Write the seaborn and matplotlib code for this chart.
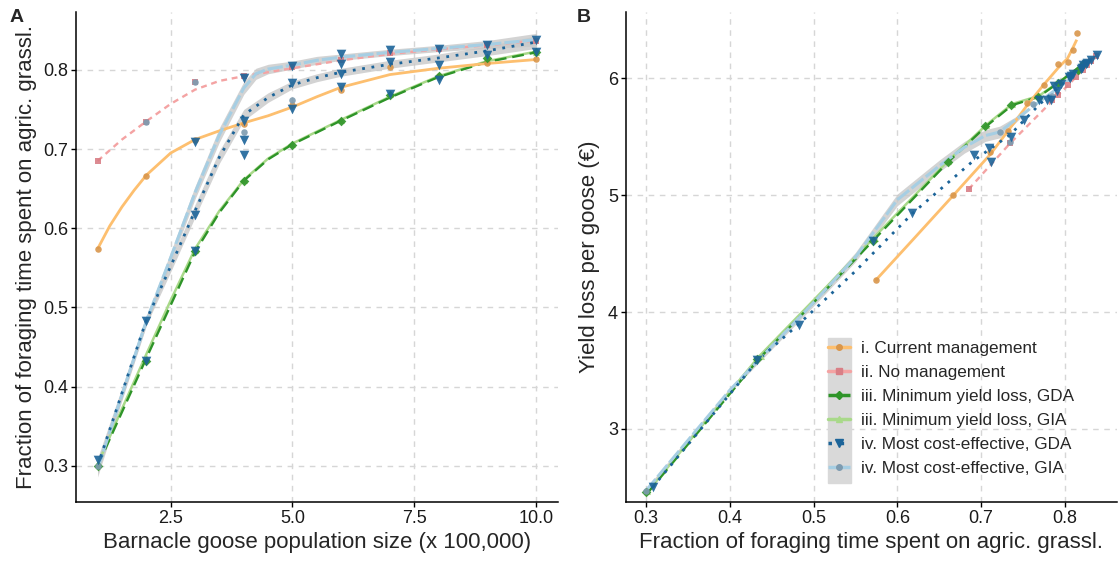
import matplotlib
matplotlib.use("Agg")
import matplotlib.pyplot as plt
from matplotlib.lines import Line2D
from matplotlib.patches import Rectangle
import numpy as np
import pandas as pd
import seaborn as sns

sns.set_theme(style="white")
plt.rcParams["font.family"] = ["Liberation Sans", "DejaVu Sans"]

# ---------------------------------------------------------------- data
labels = ["i. Current management", "ii. No management",
          "iii. Minimum yield loss, GDA", "iii. Minimum yield loss, GIA",
          "iv. Most cost-effective, GDA", "iv. Most cost-effective, GIA"]

# points: population (x 100,000), fraction on agric. grassland, yield loss per goose
cur_pop = [1, 2, 3, 4, 5, 6, 7, 8, 9, 10]
cur_frac = [0.574, 0.666, 0.711, 0.732, 0.755, 0.775, 0.803, 0.792, 0.809, 0.814]
cur_yld = [4.27, 5.00, 5.37, 5.55, 5.79, 5.94, 6.14, 6.12, 6.24, 6.39]

nom_pop = [1, 2, 3, 4, 5, 6, 7, 8, 9, 10]
nom_frac = [0.685, 0.734, 0.784, 0.792, 0.803, 0.813, 0.821, 0.826, 0.831, 0.837]
nom_yld = [5.05, 5.45, 5.81, 5.86, 5.94, 6.01, 6.07, 6.11, 6.15, 6.19]

myl_gda_pop = [1, 2, 3, 4, 5, 6, 7, 8, 9, 10]
myl_gda_frac = [0.300, 0.433, 0.571, 0.660, 0.705, 0.736, 0.768, 0.792, 0.815, 0.822]
myl_gda_yld = [2.46, 3.60, 4.61, 5.28, 5.59, 5.77, 5.84, 5.96, 6.07, 6.12]

myl_gia_pop = [1, 2, 3, 4, 5, 6, 7, 8, 9, 10]
myl_gia_frac = [0.302, 0.437, 0.573, 0.661, 0.706, 0.737, 0.769, 0.793, 0.816, 0.823]
myl_gia_yld = [2.47, 3.62, 4.63, 5.29, 5.60, 5.78, 5.85, 5.97, 6.08, 6.13]

ce_gda_pop = [1, 2, 2, 3, 3, 3, 4, 4, 4, 4, 5, 5, 5, 6, 6, 6, 6,
              7, 7, 7, 8, 8, 8, 9, 9, 10, 10]
ce_gda_frac = [0.308, 0.483, 0.433, 0.709, 0.617, 0.571, 0.790, 0.735, 0.712, 0.692,
               0.805, 0.783, 0.751, 0.820, 0.807, 0.795, 0.778, 0.825, 0.810, 0.769,
               0.8265, 0.8055, 0.787, 0.8315, 0.819, 0.838, 0.822]
ce_gda_yld = [2.50, 3.89, 3.59, 5.40, 4.85, 4.61, 5.89, 5.50, 5.28, 5.34,
              6.01, 5.81, 5.645, 6.085, 6.02, 5.95, 5.81, 6.12, 6.04, 5.81,
              6.13, 6.00, 5.93, 6.16, 6.08, 6.20, 6.11]

ce_gia_pop = [1, 2, 3, 4, 5]
ce_gia_frac = [0.300, 0.734, 0.784, 0.722, 0.762]
ce_gia_yld = [2.47, 5.455, 5.85, 5.54, 5.78]

# fitted (smoothed) curves, panel A: population -> fraction
cur_fit_pop = [1, 1.25, 1.5, 1.75, 2, 2.5, 3, 3.5, 4, 4.5, 5, 5.5, 6, 7, 8, 9, 10]
cur_fit_frac = [0.574, 0.603, 0.627, 0.648, 0.667, 0.695, 0.712, 0.723, 0.733, 0.742,
                0.753, 0.766, 0.778, 0.794, 0.802, 0.808, 0.813]
nom_fit_pop = [1, 1.5, 2, 2.5, 3, 3.5, 4, 4.5, 5, 6, 7, 8, 9, 10]
nom_fit_frac = [0.685, 0.712, 0.735, 0.757, 0.775, 0.786, 0.792, 0.797, 0.802, 0.812,
                0.820, 0.826, 0.831, 0.837]
myl_gda_fit_pop = [1, 1.5, 2, 2.5, 3, 3.5, 4, 4.5, 5, 5.5, 6, 7, 8, 9, 10]
myl_gda_fit_frac = [0.300, 0.368, 0.436, 0.503, 0.570, 0.620, 0.660, 0.687, 0.706, 0.721,
                    0.736, 0.765, 0.791, 0.810, 0.822]
myl_gia_fit_frac = [0.302, 0.372, 0.441, 0.509, 0.574, 0.622, 0.661, 0.688, 0.707, 0.722,
                    0.737, 0.766, 0.792, 0.811, 0.823]
ce_gda_fit_pop = [1, 1.5, 2, 2.5, 3, 3.5, 4, 4.5, 5, 5.5, 6, 7, 8, 9, 10]
ce_gda_fit_frac = [0.300, 0.392, 0.484, 0.552, 0.622, 0.690, 0.743, 0.765, 0.781, 0.790,
                   0.797, 0.807, 0.815, 0.824, 0.835]
ce_gda_fit_se = [0.010, 0.007, 0.006, 0.007, 0.008, 0.008, 0.007, 0.006, 0.005, 0.005,
                 0.005, 0.005, 0.005, 0.006, 0.008]
ce_gia_fit_pop = [1, 1.5, 2, 2.5, 3, 3.5, 4, 4.25, 4.5, 5, 5.5, 6, 7, 8, 9, 10]
ce_gia_fit_frac = [0.296, 0.390, 0.483, 0.563, 0.645, 0.718, 0.777, 0.795, 0.801, 0.806,
                   0.812, 0.816, 0.822, 0.827, 0.832, 0.838]
ce_gia_fit_se = [0.010, 0.007, 0.006, 0.007, 0.008, 0.009, 0.008, 0.007, 0.006, 0.005,
                 0.005, 0.004, 0.004, 0.004, 0.005, 0.008]

# fitted curves, panel B: fraction -> yield loss
cur_fitB_frac = [0.574, 0.620, 0.667, 0.711, 0.731, 0.755, 0.774, 0.792, 0.803, 0.808, 0.814]
cur_fitB_yld = [4.27, 4.63, 5.00, 5.35, 5.54, 5.77, 5.94, 6.09, 6.17, 6.24, 6.33]
nom_fitB_frac = [0.685, 0.734, 0.784, 0.805, 0.826, 0.837]
nom_fitB_yld = [5.05, 5.44, 5.80, 5.95, 6.11, 6.19]
myl_gda_fitB_frac = [0.303, 0.435, 0.500, 0.571, 0.660, 0.706, 0.737, 0.768, 0.792, 0.810, 0.822]
myl_gda_fitB_yld = [2.46, 3.60, 4.08, 4.61, 5.28, 5.59, 5.77, 5.84, 5.96, 6.06, 6.12]
myl_gia_fitB_frac = [0.303, 0.435, 0.500, 0.571, 0.660, 0.706, 0.737, 0.769, 0.793, 0.816, 0.823]
myl_gia_fitB_yld = [2.47, 3.62, 4.10, 4.63, 5.29, 5.60, 5.78, 5.85, 5.97, 6.08, 6.13]
ce_gda_fitB_frac = [0.308, 0.434, 0.483, 0.550, 0.619, 0.690, 0.735, 0.770, 0.800, 0.838]
ce_gda_fitB_yld = [2.50, 3.59, 3.90, 4.35, 4.85, 5.29, 5.52, 5.78, 5.97, 6.20]
ce_gia_fitB_frac = [0.300, 0.400, 0.500, 0.550, 0.600, 0.650, 0.680, 0.705, 0.722,
                    0.760, 0.800, 0.838]
ce_gia_fitB_yld = [2.47, 3.33, 4.08, 4.47, 4.96, 5.25, 5.41, 5.51, 5.54,
                   5.75, 5.96, 6.19]
ce_gia_fitB_se = [0.02, 0.02, 0.03, 0.04, 0.05, 0.05, 0.05, 0.05, 0.05,
                  0.0, 0.0, 0.0]

# ---------------------------------------------------------------- styling
C_CUR_L, C_CUR_P = "#fdbf6f", "#d9964b"
C_NOM_L, C_NOM_P = "#f4a3a3", "#d97f86"
C_GDA3 = "#2e9428"
C_GIA3 = "#a9d98a"
C_GDA4 = "#1c6499"
C_GIA4_L, C_GIA4_P = "#a6cee3", "#7d9bb0"
BAND = "#c8c8c8"

fig = plt.figure(figsize=(11.18, 5.63), dpi=100)
axA = fig.add_axes([75.7 / 1118, 60.7 / 563, (558 - 75.7) / 1118, (551 - 60.7) / 563])
axB = fig.add_axes([625.7 / 1118, 60.7 / 563, (1117 - 625.7) / 1118, (551 - 60.7) / 563])


def line(ax, x, y, color, lw, dashes=None, z=3):
    d = pd.DataFrame({"x": x, "y": y})
    sns.lineplot(data=d, x="x", y="y", ax=ax, color=color, lw=lw, sort=False,
                 estimator=None, zorder=z)
    l = ax.lines[-1]
    l.set_solid_capstyle("butt")
    if dashes is not None:
        l.set_dashes(dashes)
        l.set_dash_capstyle("butt")


def pts(ax, x, y, color, marker, s, z=5):
    d = pd.DataFrame({"x": x, "y": y})
    sns.scatterplot(data=d, x="x", y="y", ax=ax, color=color, marker=marker, s=s,
                    linewidth=0, alpha=0.9, zorder=z)


def band(ax, x, y, se, z=2):
    x = np.asarray(x); y = np.asarray(y); se = np.asarray(se)
    ax.fill_between(x, y - se, y + se, color=BAND, lw=0, alpha=0.8, zorder=z)


# panel A -----------------------------------------------------------------
band(axA, ce_gia_fit_pop, ce_gia_fit_frac, ce_gia_fit_se)
band(axA, ce_gda_fit_pop, ce_gda_fit_frac, ce_gda_fit_se)
line(axA, myl_gda_fit_pop, myl_gia_fit_frac, C_GIA3, 1.8)
line(axA, myl_gda_fit_pop, myl_gda_fit_frac, C_GDA3, 1.7, (5, 2.5))
line(axA, cur_fit_pop, cur_fit_frac, C_CUR_L, 2.0)
line(axA, nom_fit_pop, nom_fit_frac, C_NOM_L, 1.7, (2.5, 2))
line(axA, ce_gia_fit_pop, ce_gia_fit_frac, C_GIA4_L, 2.2, (5, 1))
line(axA, ce_gda_fit_pop, ce_gda_fit_frac, C_GDA4, 2.0, (1, 2.4))

pts(axA, cur_pop, cur_frac, C_CUR_P, "o", 22)
pts(axA, nom_pop, nom_frac, C_NOM_P, "s", 22)
pts(axA, myl_gia_pop, myl_gia_frac, C_GIA3, "^", 26)
pts(axA, myl_gda_pop, myl_gda_frac, C_GDA3, "D", 24)
pts(axA, ce_gia_pop, ce_gia_frac, C_GIA4_P, "o", 22)
pts(axA, ce_gda_pop, ce_gda_frac, C_GDA4, "v", 48)

# panel B -----------------------------------------------------------------
band(axB, ce_gia_fitB_frac, ce_gia_fitB_yld, ce_gia_fitB_se)
line(axB, myl_gia_fitB_frac, myl_gia_fitB_yld, C_GIA3, 1.8)
line(axB, myl_gda_fitB_frac, myl_gda_fitB_yld, C_GDA3, 1.7, (5, 2.5))
line(axB, cur_fitB_frac, cur_fitB_yld, C_CUR_L, 2.0)
line(axB, nom_fitB_frac, nom_fitB_yld, C_NOM_L, 1.7, (2.5, 2))
line(axB, ce_gia_fitB_frac, ce_gia_fitB_yld, C_GIA4_L, 2.2, (5, 1))
line(axB, ce_gda_fitB_frac, ce_gda_fitB_yld, C_GDA4, 2.0, (1, 2.4))

pts(axB, cur_frac, cur_yld, C_CUR_P, "o", 22)
pts(axB, nom_frac, nom_yld, C_NOM_P, "s", 22)
pts(axB, myl_gia_frac, myl_gia_yld, C_GIA3, "^", 26)
pts(axB, myl_gda_frac, myl_gda_yld, C_GDA3, "D", 24)
pts(axB, ce_gia_frac, ce_gia_yld, C_GIA4_P, "o", 22)
pts(axB, ce_gda_frac, ce_gda_yld, C_GDA4, "v", 48)

# axes --------------------------------------------------------------------
axA.set_xlim(0.55, 10.45); axA.set_ylim(0.254, 0.873)
axA.set_xticks([2.5, 5.0, 7.5, 10.0]); axA.set_xticklabels(["2.5", "5.0", "7.5", "10.0"])
axA.set_yticks([0.3, 0.4, 0.5, 0.6, 0.7, 0.8])
axA.set_xlabel("Barnacle goose population size (x 100,000)", fontsize=16)
axA.set_ylabel("Fraction of foraging time spent on agric. grassl.", fontsize=16)

axB.set_xlim(0.276, 0.862); axB.set_ylim(2.372, 6.567)
axB.set_xticks([0.3, 0.4, 0.5, 0.6, 0.7, 0.8]); axB.set_yticks([3, 4, 5, 6])
axB.set_xlabel("Fraction of foraging time spent on agric. grassl.", fontsize=16)
axB.set_ylabel("Yield loss per goose (€)", fontsize=16)

for ax in (axA, axB):
    sns.despine(ax=ax)
    for sp in ("left", "bottom"):
        ax.spines[sp].set_color("black"); ax.spines[sp].set_linewidth(1.1)
    ax.grid(True, color="#d6d6d6", lw=1.0, ls=(0, (4, 4)), zorder=0)
    ax.set_axisbelow(True)
    ax.tick_params(axis="both", labelsize=13, length=3.5, width=1, color="black",
                   left=True, bottom=True, pad=2, labelcolor="#1a1a1a")
    ax.xaxis.labelpad = 4

axA.yaxis.labelpad = 4
axB.yaxis.labelpad = 6

fig.text(10 / 1118, 1 - 22 / 563, "A", fontsize=14, fontweight="bold")
fig.text(577 / 1118, 1 - 22 / 563, "B", fontsize=14, fontweight="bold")

# legend ------------------------------------------------------------------
handles = [
    Line2D([], [], color=C_CUR_L, lw=2.5, marker="o", ms=4, mfc=C_CUR_P, mec=C_CUR_P),
    Line2D([], [], color=C_NOM_L, lw=2.5, marker="s", ms=4, mfc=C_NOM_P, mec=C_NOM_P),
    Line2D([], [], color=C_GDA3, lw=2.5, marker="D", ms=4, ls=(0, (3, 1.2)), mfc=C_GDA3, mec=C_GDA3),
    Line2D([], [], color=C_GIA3, lw=2.5, marker="^", ms=5, mfc=C_GIA3, mec=C_GIA3),
    Line2D([], [], color=C_GDA4, lw=2.5, marker="v", ms=6, ls=(0, (1, 2.5)), mfc=C_GDA4, mec=C_GDA4),
    Line2D([], [], color=C_GIA4_L, lw=2.5, marker="o", ms=4, ls=(0, (3, 1)), mfc=C_GIA4_P, mec=C_GIA4_P),
]
fig.patches.append(Rectangle((828 / 1118, 1 - 483 / 563), 23 / 1118, 145 / 563,
                             transform=fig.transFigure, color="#d9d9d9", zorder=0))
leg = fig.legend(handles, labels, loc="upper left",
                 bbox_to_anchor=(828 / 1118, 1 - 341 / 563), frameon=False,
                 fontsize=12.3, handlelength=1.3, handletextpad=0.65,
                 labelspacing=0.53, borderpad=0, borderaxespad=0)

fig.savefig("out.png", dpi=100)
